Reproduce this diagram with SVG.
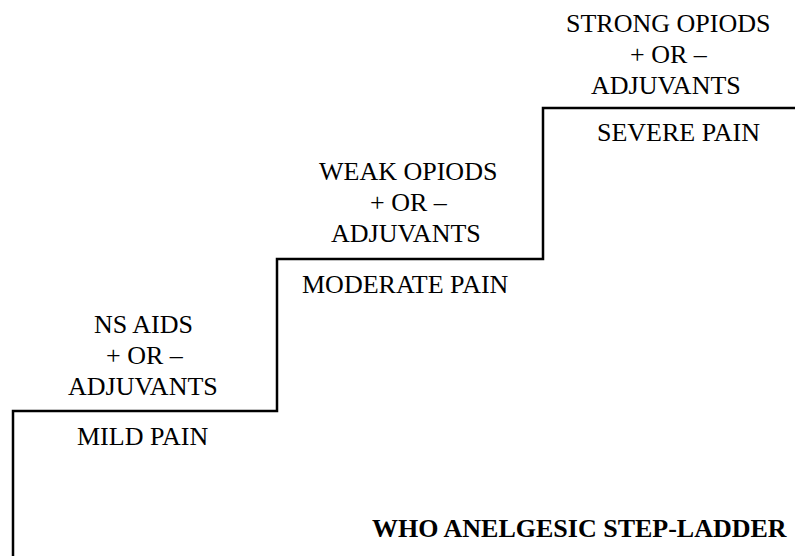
<svg xmlns="http://www.w3.org/2000/svg" width="795" height="556" viewBox="0 0 795 556">
<style>
.step{fill:none;stroke:#000;stroke-width:2.5}
</style>
<rect width="795" height="556" fill="#fff"/>
<g id="connectors">
<path class="step" d="M13,556 V411 H277 V259 H543 V108 H795"/>
</g>
<g id="step1">
<text x="94" y="333" font-family="Liberation Serif" font-size="26">NS AIDS</text>
<text x="106" y="364" font-family="Liberation Serif" font-size="26">+ OR –</text>
<text x="68" y="395" font-family="Liberation Serif" font-size="26">ADJUVANTS</text>
<text x="77" y="445" font-family="Liberation Serif" font-size="26">MILD PAIN</text>
</g>
<g id="step2">
<text x="319" y="180" font-family="Liberation Serif" font-size="26">WEAK OPIODS</text>
<text x="370" y="211" font-family="Liberation Serif" font-size="26">+ OR –</text>
<text x="331" y="242" font-family="Liberation Serif" font-size="26">ADJUVANTS</text>
<text x="302" y="293" font-family="Liberation Serif" font-size="26">MODERATE PAIN</text>
</g>
<g id="step3">
<text x="566" y="32" font-family="Liberation Serif" font-size="26">STRONG OPIODS</text>
<text x="630" y="63" font-family="Liberation Serif" font-size="26">+ OR –</text>
<text x="591" y="94" font-family="Liberation Serif" font-size="26">ADJUVANTS</text>
<text x="597" y="141" font-family="Liberation Serif" font-size="26">SEVERE PAIN</text>
</g>
<g id="title">
<text x="372" y="537" font-family="Liberation Serif" font-size="26" font-weight="bold">WHO ANELGESIC STEP-LADDER</text>
</g>
</svg>
